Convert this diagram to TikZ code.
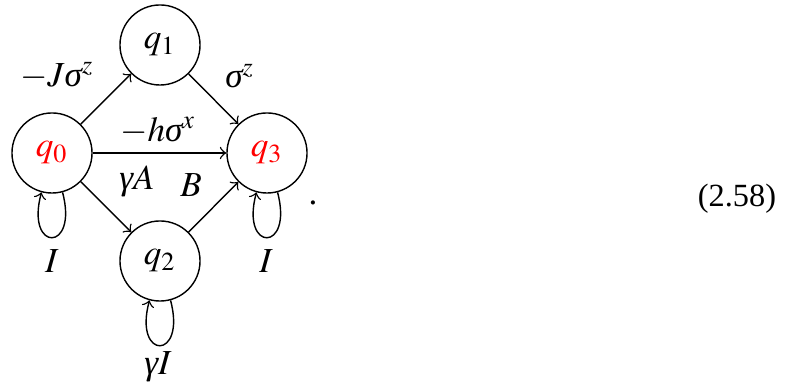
\documentclass[tikz,border=0pt]{standalone}
\usepackage{mathptmx}
\usepackage{fontspec}
\setmainfont{Liberation Serif}
\newcommand{\gsig}{\mbox{\itshape σ}}
\newcommand{\ggam}{\mbox{\itshape γ}}
\begin{document}
\begin{tikzpicture}[
        x=0.01cm, y=-0.01cm,
        >=to,
        state/.style={draw, circle, minimum size=0.8cm, inner sep=0pt},
        final/.style={state, text=red},
        flow/.style={->},
        self/.style={->, loop below, looseness=7.6},
        lbl/.style={inner sep=1pt}
    ]
        \useasboundingbox (0,0) rectangle (801,386);

        \node[final] (q0) at (52,153) {$q_0$};
        \node[state] (q1) at (160,45) {$q_1$};
        \node[state] (q2) at (160,261) {$q_2$};
        \node[final] (q3) at (267,153) {$q_3$};

        \node[lbl] (l01) at (57,76) {$-J\gsig^z$};
        \node[lbl] (l13) at (240,76) {$\gsig^z$};
        \node[lbl] (l03) at (158,131) {$-h\gsig^x$};
        \node[lbl] (l02) at (137,181) {$\ggam A$};
        \node[lbl] (l23) at (191,185) {$B$};
        \node[lbl] (l00) at (52,261) {$I$};
        \node[lbl] (l33) at (266,261) {$I$};
        \node[lbl] (l22) at (158,367) {$\ggam I$};

        \node (dot) at (313,203) {.};
        \node[font=\fontsize{9.2}{11}\selectfont] (eqno) at (737,199) {(2.58)};

        \draw[flow] (q0) -- (q1);
        \draw[flow] (q1) -- (q3);
        \draw[flow] (q0) -- (q3);
        \draw[flow] (q0) -- (q2);
        \draw[flow] (q2) -- (q3);
        \path (q0) edge[self] (q0);
        \path (q2) edge[self] (q2);
        \path (q3) edge[self] (q3);
    \end{tikzpicture}
\end{document}
